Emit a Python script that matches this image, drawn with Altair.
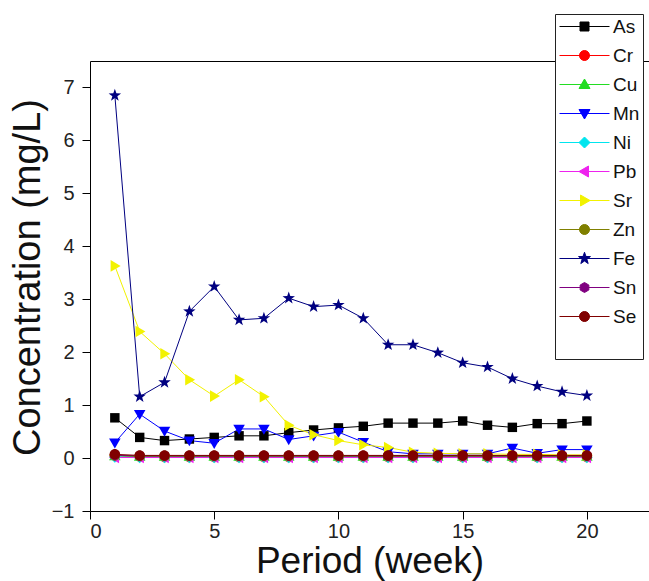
import math

import altair as alt
import pandas as pd

# ---- data -------------------------------------------------------------
weeks = list(range(1, 21))

metals = ["As", "Cr", "Cu", "Mn", "Ni", "Pb", "Sr", "Zn", "Fe", "Sn", "Se"]

as_vals = [0.76, 0.39, 0.33, 0.36, 0.39, 0.42, 0.42, 0.48, 0.53, 0.57,
           0.60, 0.66, 0.66, 0.66, 0.70, 0.62, 0.58, 0.65, 0.65, 0.70]
cr_vals = [0.05, 0.03, 0.02, 0.02, 0.02, 0.02, 0.02, 0.02, 0.02, 0.02,
           0.02, 0.02, 0.02, 0.02, 0.02, 0.02, 0.02, 0.02, 0.02, 0.02]
cu_vals = [0.04, 0.03, 0.03, 0.03, 0.03, 0.03, 0.03, 0.03, 0.03, 0.03,
           0.03, 0.03, 0.03, 0.03, 0.03, 0.03, 0.03, 0.03, 0.03, 0.03]
mn_vals = [0.29, 0.83, 0.51, 0.33, 0.28, 0.55, 0.55, 0.35, 0.42, 0.49,
           0.30, 0.12, 0.08, 0.08, 0.08, 0.08, 0.19, 0.09, 0.16, 0.16]
ni_vals = [0.02, 0.01, 0.01, 0.01, 0.01, 0.01, 0.01, 0.01, 0.01, 0.01,
           0.01, 0.01, 0.01, 0.01, 0.01, 0.01, 0.01, 0.01, 0.01, 0.01]
pb_vals = [0.01, 0.01, 0.01, 0.01, 0.01, 0.01, 0.01, 0.01, 0.01, 0.01,
           0.01, 0.01, 0.01, 0.01, 0.01, 0.01, 0.01, 0.01, 0.01, 0.01]
sr_vals = [3.63, 2.39, 1.97, 1.48, 1.17, 1.48, 1.16, 0.62, 0.44, 0.33,
           0.25, 0.20, 0.11, 0.09, 0.08, 0.08, 0.07, 0.07, 0.06, 0.06]
zn_vals = [0.05, 0.04, 0.04, 0.04, 0.04, 0.04, 0.04, 0.04, 0.04, 0.04,
           0.04, 0.04, 0.04, 0.04, 0.04, 0.04, 0.04, 0.04, 0.04, 0.04]
fe_vals = [6.85, 1.16, 1.43, 2.77, 3.24, 2.61, 2.64, 3.02, 2.86, 2.89,
           2.64, 2.14, 2.14, 1.99, 1.80, 1.72, 1.50, 1.36, 1.25, 1.18]
sn_vals = [0.05, 0.04, 0.04, 0.04, 0.04, 0.04, 0.04, 0.04, 0.04, 0.04,
           0.04, 0.04, 0.04, 0.04, 0.04, 0.04, 0.04, 0.04, 0.04, 0.04]
se_vals = [0.07, 0.05, 0.05, 0.05, 0.05, 0.05, 0.05, 0.05, 0.05, 0.05,
           0.05, 0.05, 0.05, 0.05, 0.05, 0.05, 0.05, 0.05, 0.05, 0.05]

series = {
    "As": as_vals, "Cr": cr_vals, "Cu": cu_vals, "Mn": mn_vals,
    "Ni": ni_vals, "Pb": pb_vals, "Sr": sr_vals, "Zn": zn_vals,
    "Fe": fe_vals, "Sn": sn_vals, "Se": se_vals,
}

# ---- styling ----------------------------------------------------------
colors = {
    "As": "#000000", "Cr": "#FF0000", "Cu": "#22DD22", "Mn": "#0000FF",
    "Ni": "#00E5EE", "Pb": "#EE22EE", "Sr": "#F2F200", "Zn": "#808000",
    "Fe": "#000080", "Sn": "#800080", "Se": "#800000",
}


def star_path(outer=1.25, inner=0.5):
    pts = []
    for k in range(10):
        r = outer if k % 2 == 0 else inner
        a = -math.pi / 2 + k * math.pi / 5
        pts.append(f"{r * math.cos(a):.3f},{r * math.sin(a):.3f}")
    return "M" + "L".join(pts) + "Z"


def hexagon_path(r=1.0):
    pts = []
    for k in range(6):
        a = math.pi / 6 + k * math.pi / 3
        pts.append(f"{r * math.cos(a):.3f},{r * math.sin(a):.3f}")
    return "M" + "L".join(pts) + "Z"


circle = "M1,0A1,1 0 1,1 -1,0A1,1 0 1,1 1,0Z"
markers = {
    "As": "M-0.9,-0.9H0.9V0.9H-0.9Z",
    "Cr": circle,
    "Cu": "M0,-1.1L1.1,0.8H-1.1Z",
    "Mn": "M0,1.1L1.1,-0.8H-1.1Z",
    "Ni": "M0,-1.1L1.1,0L0,1.1L-1.1,0Z",
    "Pb": "M-1.1,0L0.8,-1.1V1.1Z",
    "Sr": "M1.1,0L-0.8,-1.1V1.1Z",
    "Zn": circle,
    "Fe": star_path(),
    "Sn": hexagon_path(),
    "Se": circle,
}

FONT = "Liberation Sans"

rows = []
for m in metals:
    for w, v in zip(weeks, series[m]):
        rows.append({"week": w, "conc": v, "metal": m, "marker": markers[m]})
df = pd.DataFrame(rows)

# legend entries: a short line with the series marker on top of it
symbol_expr = "'M-5,0H5' + (" + " : ".join(
    f"datum.value === '{m}' ? '{markers[m]}'" for m in metals
) + " : '')"
entry_color = alt.ExprRef(expr="scale('color', datum.value)")

legend = alt.Legend(
    orient="none",
    legendX=465,
    legendY=-47,
    title="\u00a0" * 18,
    titleOrient="bottom",
    titleFontSize=20,
    titlePadding=9,
    symbolType=alt.ExprRef(expr=symbol_expr),
    symbolFillColor=entry_color,
    symbolStrokeColor=entry_color,
    symbolStrokeWidth=1,
    symbolSize=100,
    symbolOffset=17,
    labelOffset=19,
    labelFont=FONT,
    labelFontSize=19,
    labelColor="#111111",
    fillColor="white",
    strokeColor="#222222",
    padding=3,
    rowPadding=9,
)

color = alt.Color(
    "metal:N",
    scale=alt.Scale(domain=metals, range=[colors[m] for m in metals]),
    legend=legend,
)

y_axis = alt.Axis(
    values=list(range(-1, 8)),
    tickSize=8,
    labelPadding=8,
    title="Concentration (mg/L)",
    titleFontSize=38,
    titleX=-62,
    titleY=216,
    titleBaseline="middle",
    titleAlign="center",
)
y_scale = alt.Scale(domain=[-1, 7.5], nice=False, zero=False)
x_scale = alt.Scale(domain=[0, 22.5], nice=False, zero=False)

lines = alt.Chart(df).mark_line(strokeWidth=1).encode(
    x=alt.X(
        "week:Q",
        scale=x_scale,
        axis=alt.Axis(
            values=[0, 5, 10, 15, 20],
            tickSize=8,
            labelPadding=2,
            title="Period (week)",
            titleFontSize=37,
            titleY=61,
            titleBaseline="alphabetic",
        ),
    ),
    y=alt.Y("conc:Q", scale=y_scale, axis=y_axis),
    color=color,
    order="week:Q",
)

points = alt.Chart(df).mark_point(filled=True, size=110, opacity=1).encode(
    x=alt.X(
        "week:Q",
        scale=x_scale,
        axis=alt.Axis(orient="top", labels=False, ticks=False, title=None, domain=True),
    ),
    y=alt.Y("conc:Q", scale=y_scale, axis=y_axis),
    color=color,
    shape=alt.Shape("marker:N", scale=None),
)

chart = (
    alt.layer(lines, points)
    .resolve_axis(x="independent")
    .properties(
        width=559,
        height=450,
        padding={"left": 90, "top": 61, "right": 0, "bottom": 70},
        autosize=alt.AutoSizeParams(type="none"),
        background="white",
    )
    .configure_view(stroke=None)
    .configure_axis(
        grid=False,
        domainColor="#000000",
        tickColor="#000000",
        domainWidth=1,
        tickWidth=1,
        labelFont=FONT,
        labelFontSize=20,
        labelColor="#222222",
        titleFont=FONT,
        titleFontWeight="normal",
        titleColor="#111111",
    )
)

chart.save("out.html", embed_options={"renderer": "svg", "actions": False})
